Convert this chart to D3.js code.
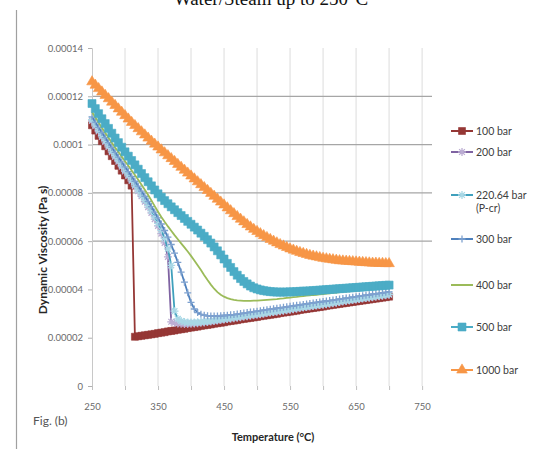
<!DOCTYPE html>
<html>
<head>
<meta charset="utf-8">
<script src="https://cdn.jsdelivr.net/npm/d3@7"></script>
<style>
  body { margin: 0; background: #fff; }
  svg { display: block; font-family: Lato, "Open Sans", sans-serif; }
</style>
</head>
<body>
<svg id="chart" width="545" height="449"></svg>
<script>
// temperatures (°C), shared by every series
const temps = [
  250,255,260,265,270,275,280,285,290,295,
  300,305,310,315,320,325,330,335,340,345,
  350,355,360,365,370,375,380,385,390,395,
  400,405,410,415,420,425,430,435,440,445,
  450,455,460,465,470,475,480,485,490,495,
  500,505,510,515,520,525,530,535,540,545,
  550,555,560,565,570,575,580,585,590,595,
  600,605,610,615,620,625,630,635,640,645,
  650,655,660,665,670,675,680,685,690,695,
  700];

// dynamic viscosity, in micro Pa s
const bar100 = [
  108.0,105.8,103.6,101.4,99.3,97.2,95.2,93.2,91.2,89.2,
  87.2,85.2,83.0,20.4,20.6,20.8,21.0,21.2,21.4,21.6,
  21.9,22.1,22.3,22.6,22.8,23.0,23.3,23.5,23.7,24.0,
  24.2,24.4,24.6,24.9,25.1,25.3,25.5,25.8,26.0,26.2,
  26.4,26.7,26.9,27.1,27.3,27.6,27.8,28.0,28.2,28.4,
  28.6,28.9,29.1,29.3,29.5,29.7,29.9,30.2,30.4,30.6,
  30.8,31.0,31.2,31.5,31.7,31.9,32.1,32.3,32.5,32.7,
  32.9,33.2,33.4,33.6,33.8,34.0,34.2,34.4,34.6,34.8,
  35.0,35.2,35.4,35.6,35.8,36.0,36.2,36.4,36.6,36.8,
  37.0];
const bar200 = [
  109.8,107.6,105.4,103.2,101.1,99.0,96.9,94.9,92.9,90.9,
  88.9,86.9,84.9,82.8,80.7,78.6,76.4,74.1,71.7,69.1,
  66.3,63.1,59.3,53.5,26.6,26.2,25.9,25.8,25.7,25.7,
  25.8,25.9,26.0,26.2,26.3,26.5,26.7,26.9,27.1,27.3,
  27.5,27.7,27.9,28.1,28.3,28.5,28.7,28.9,29.1,29.3,
  29.5,29.7,29.9,30.2,30.4,30.6,30.8,31.0,31.2,31.4,
  31.6,31.8,32.0,32.3,32.5,32.7,32.9,33.1,33.3,33.5,
  33.7,33.9,34.1,34.3,34.5,34.8,35.0,35.2,35.4,35.6,
  35.8,36.0,36.2,36.4,36.6,36.8,37.0,37.2,37.4,37.6,
  37.8];
const bar220 = [
  110.3,108.1,105.9,103.7,101.6,99.5,97.4,95.4,93.4,91.4,
  89.4,87.4,85.4,83.3,81.2,79.1,77.0,74.8,72.5,70.0,
  67.4,64.5,61.1,56.8,50.0,31.0,27.8,26.9,26.5,26.3,
  26.3,26.3,26.4,26.5,26.7,26.8,27.0,27.2,27.4,27.6,
  27.8,28.0,28.2,28.4,28.6,28.8,29.0,29.2,29.4,29.6,
  29.8,30.0,30.2,30.4,30.6,30.8,31.0,31.2,31.4,31.6,
  31.8,32.1,32.3,32.5,32.7,32.9,33.1,33.3,33.5,33.7,
  33.9,34.1,34.3,34.5,34.7,35.0,35.2,35.4,35.6,35.8,
  36.0,36.2,36.4,36.6,36.8,37.0,37.2,37.4,37.6,37.8,
  38.0];
const bar300 = [
  111.5,109.3,107.1,105.0,102.9,100.8,98.8,96.8,94.8,92.8,
  90.8,88.8,86.8,84.8,82.8,80.7,78.6,76.5,74.3,72.0,
  69.6,67.1,64.4,61.7,58.6,55.0,51.2,47.2,43.0,38.6,
  34.6,31.9,30.4,29.7,29.3,29.1,29.0,29.0,29.0,29.1,
  29.2,29.3,29.5,29.6,29.8,30.0,30.2,30.4,30.6,30.8,
  31.0,31.2,31.4,31.6,31.8,32.0,32.2,32.4,32.6,32.8,
  33.0,33.2,33.4,33.6,33.8,34.0,34.2,34.4,34.6,34.8,
  35.0,35.2,35.4,35.6,35.8,36.0,36.2,36.4,36.6,36.8,
  37.0,37.2,37.4,37.6,37.8,38.0,38.2,38.4,38.6,38.8,
  39.0];
const bar400 = [
  113.5,111.3,109.1,107.0,104.9,102.8,100.8,98.8,96.9,95.0,
  93.1,91.2,89.3,87.4,85.4,83.4,81.3,79.1,76.8,74.5,
  72.2,70.0,68.0,66.1,64.3,62.5,60.8,59.1,57.4,55.7,
  53.9,52.0,50.0,48.0,45.9,43.9,42.0,40.3,38.9,37.8,
  37.0,36.4,36.0,35.7,35.5,35.4,35.3,35.3,35.3,35.4,
  35.4,35.5,35.6,35.7,35.8,35.9,36.0,36.2,36.3,36.5,
  36.6,36.8,36.9,37.1,37.2,37.4,37.5,37.7,37.8,38.0,
  38.1,38.3,38.4,38.6,38.7,38.9,39.0,39.2,39.3,39.5,
  39.6,39.8,39.9,40.1,40.2,40.4,40.5,40.7,40.8,41.0,
  41.1];
const bar500 = [
  117.0,114.9,112.8,110.7,108.7,106.7,104.7,102.7,100.8,98.9,
  97.0,95.2,93.4,91.6,89.8,88.0,86.3,84.6,82.9,81.2,
  79.6,78.2,76.8,75.5,74.2,73.0,71.8,70.6,69.4,68.2,
  67.0,65.8,64.6,63.3,62.0,60.6,59.2,57.6,56.0,54.3,
  52.6,50.8,49.1,47.4,45.9,44.5,43.3,42.3,41.4,40.7,
  40.2,39.8,39.5,39.3,39.1,39.0,38.9,38.9,38.9,38.9,
  39.0,39.0,39.1,39.2,39.3,39.3,39.4,39.5,39.6,39.7,
  39.8,39.9,40.0,40.1,40.2,40.3,40.4,40.5,40.6,40.7,
  40.8,40.9,41.0,41.1,41.2,41.3,41.4,41.5,41.6,41.7,
  41.8];
const bar1000 = [
  126.0,124.6,123.2,121.8,120.4,119.0,117.6,116.2,114.8,113.4,
  112.0,110.6,109.2,107.9,106.6,105.3,104.0,102.7,101.4,100.2,
  99.0,97.8,96.6,95.4,94.2,93.0,91.8,90.6,89.4,88.2,
  87.0,85.8,84.6,83.4,82.2,81.0,79.8,78.6,77.4,76.2,
  75.0,73.8,72.6,71.4,70.2,69.1,68.0,66.9,65.9,64.9,
  64.0,63.1,62.3,61.5,60.7,60.0,59.3,58.6,58.0,57.4,
  56.8,56.3,55.8,55.3,54.9,54.5,54.1,53.8,53.5,53.2,
  52.9,52.7,52.5,52.3,52.1,51.9,51.8,51.7,51.6,51.5,
  51.4,51.3,51.2,51.1,51.0,50.9,50.9,50.8,50.8,50.7,
  50.7];

const seriesNames = ['100 bar', '200 bar', '220.64 bar', '300 bar', '400 bar', '500 bar', '1000 bar'];
const seriesValues = [bar100, bar200, bar220, bar300, bar400, bar500, bar1000];

const yTicks = [0, 0.00002, 0.00004, 0.00006, 0.00008, 0.0001, 0.00012, 0.00014];
const yTickLabels = ['0', '0.00002', '0.00004', '0.00006', '0.00008', '0.0001', '0.00012', '0.00014'];
const yGrid = [0.00006, 0.00008, 0.0001, 0.00012];
const xTicks = [250, 350, 450, 550, 650, 750];
const xMinor = [250, 300, 350, 400, 450, 500, 550, 600, 650, 700, 750];

// look of each series (same order as seriesNames)
const styles = [
  { line: '#953735', marker: 'square',   mark: '#953735', size: 7 },
  { line: '#7F63A2', marker: 'asterisk', mark: '#BCADD3', size: 8 },
  { line: '#3FA0BC', marker: 'asterisk', mark: '#A9D8E6', size: 8 },
  { line: '#4F81BD', marker: 'plus',     mark: '#7EA1CF', size: 7 },
  { line: '#9BBB59', marker: null },
  { line: '#4BACC6', marker: 'square',   mark: '#4BACC6', size: 8 },
  { line: '#F79646', marker: 'triangle', mark: '#F79646', size: 9 }
];
const legendY = [131, 152, 195, 239, 285, 327, 370];

const svg = d3.select('#chart');

const x = d3.scaleLinear().domain([250, 765]).range([92, 432]);
const y = d3.scaleLinear().domain([0, 0.00014]).range([386, 48]);

// title, cut off at the top of the picture
svg.append('text')
  .attr('x', 271).attr('y', 5)
  .attr('text-anchor', 'middle')
  .attr('font-family', '"Liberation Serif", "Times New Roman", serif')
  .attr('font-size', 19).attr('fill', '#111')
  .text('Water/Steam up to 250°C');

// left frame line
svg.append('line')
  .attr('x1', 16.5).attr('x2', 16.5).attr('y1', 10).attr('y2', 449)
  .attr('stroke', '#a0a0a0').attr('stroke-width', 1.2);

// vertical grid
svg.append('g').selectAll('line')
  .data(xMinor.slice(1))
  .join('line')
  .attr('x1', d => x(d)).attr('x2', d => x(d))
  .attr('y1', y(0.00014)).attr('y2', y(0))
  .attr('stroke', '#dcdcdc').attr('stroke-width', 1);

// horizontal grid
svg.append('g').selectAll('line')
  .data(yGrid)
  .join('line')
  .attr('x1', x(250)).attr('x2', x(765))
  .attr('y1', d => y(d)).attr('y2', d => y(d))
  .attr('stroke', '#a6a6a6').attr('stroke-width', 1.3);

// y axis
const yAxis = d3.axisLeft(y).tickValues(yTicks).tickSize(4)
  .tickFormat((d, i) => yTickLabels[i]);
const gy = svg.append('g').attr('transform', `translate(${x(250)},0)`).call(yAxis);
gy.select('.domain').attr('stroke', '#c8c8c8');
gy.selectAll('.tick line').attr('stroke', '#b0b0b0');
gy.selectAll('.tick text')
  .attr('x', -9).attr('fill', '#6a6a6a')
  .attr('font-size', 9.5).attr('font-family', 'Lato, sans-serif');

// x axis
const xAxis = d3.axisBottom(x).tickValues(xMinor).tickSize(4)
  .tickFormat(d => xTicks.includes(d) ? d : '');
const gx = svg.append('g').attr('transform', `translate(0,${y(0)})`).call(xAxis);
gx.select('.domain').remove();
gx.selectAll('.tick line').attr('stroke', '#c0c0c0');
gx.selectAll('.tick text')
  .attr('y', 17).attr('fill', '#6a6a6a')
  .attr('font-size', 9.5).attr('font-family', 'Lato, sans-serif');

// markers
function markerPath(type, s) {
  const h = s / 2;
  if (type === 'square') return d3.symbol(d3.symbolSquare, s * s)();
  if (type === 'triangle') return d3.symbol(d3.symbolTriangle, s * s * 0.6)();
  if (type === 'plus') return `M${-h},0H${h}M0,${-h}V${h}`;
  const k = h * 0.72;
  return `M${-h},0H${h}M0,${-h}V${h}M${-k},${-k}L${k},${k}M${-k},${k}L${k},${-k}`;
}
function drawMarker(g, st) {
  const p = g.append('path').attr('d', markerPath(st.marker, st.size));
  if (st.marker === 'square' || st.marker === 'triangle') {
    p.attr('fill', st.mark).attr('stroke', st.mark).attr('stroke-width', 0.6);
  } else {
    p.attr('fill', 'none').attr('stroke', st.mark).attr('stroke-width', 1.3);
  }
  return p;
}

const line = d3.line().x(d => x(d.t)).y(d => y(d.v));

seriesValues.forEach((vals, i) => {
  const st = styles[i];
  const pts = vals.map((v, j) => ({ t: temps[j], v: v * 1e-6 }));
  const g = svg.append('g');
  g.append('path').datum(pts)
    .attr('d', line)
    .attr('fill', 'none')
    .attr('stroke', st.line)
    .attr('stroke-width', 1.8);
  if (st.marker) {
    pts.forEach(p => {
      drawMarker(g, st).attr('transform', `translate(${x(p.t)},${y(p.v)})`);
    });
  }
});

// legend
const legend = svg.append('g');
seriesNames.forEach((name, i) => {
  const st = styles[i];
  const ly = legendY[i];
  const g = legend.append('g');
  g.append('line')
    .attr('x1', 451).attr('x2', 473).attr('y1', ly).attr('y2', ly)
    .attr('stroke', st.line).attr('stroke-width', 2);
  if (st.marker) drawMarker(g, st).attr('transform', `translate(462,${ly})`);
  const t = g.append('text')
    .attr('x', 476).attr('y', ly + 4)
    .attr('font-size', 10.5).attr('fill', '#404040')
    .text(name);
  if (name === '220.64 bar') {
    g.append('text')
      .attr('x', 476).attr('y', ly + 17)
      .attr('font-size', 10.5).attr('fill', '#404040')
      .text('(P-cr)');
  }
});

// axis titles
svg.append('text')
  .attr('transform', 'translate(47,250) rotate(-90)')
  .attr('text-anchor', 'middle')
  .attr('font-size', 12).attr('font-weight', 'bold').attr('fill', '#262626')
  .text('Dynamic Viscosity (Pa s)');

svg.append('text')
  .attr('x', 273).attr('y', 441)
  .attr('text-anchor', 'middle')
  .attr('font-size', 11).attr('font-weight', 'bold').attr('fill', '#262626')
  .text('Temperature (°C)');

svg.append('text')
  .attr('x', 33).attr('y', 425)
  .attr('font-size', 12).attr('fill', '#555')
  .text('Fig. (b)');
</script>
</body>
</html>
